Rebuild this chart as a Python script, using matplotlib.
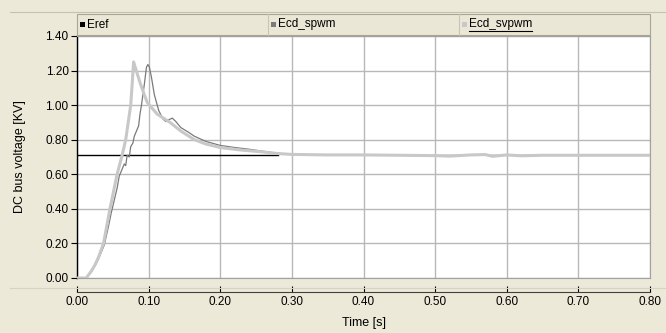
import matplotlib
matplotlib.use('Agg')
import matplotlib.pyplot as plt
from matplotlib.patches import Rectangle
from matplotlib.lines import Line2D

plt.rcParams['font.family'] = ['Liberation Sans', 'DejaVu Sans']

# Series names
series_names = ['Eref', 'Ecd_spwm', 'Ecd_svpwm']

# Eref reference line
t_ref = [0.0, 0.281]
v_ref = [0.709, 0.709]

# Ecd_spwm (dark grey)
t_spwm = [0.0, 0.013, 0.02, 0.025, 0.03, 0.038, 0.044, 0.048, 0.052, 0.056, 0.059, 0.062,
          0.066, 0.068, 0.070, 0.073, 0.075, 0.078, 0.080, 0.083, 0.086, 0.088,
          0.090, 0.094, 0.097, 0.099, 0.101, 0.104, 0.108, 0.114, 0.120, 0.124,
          0.128, 0.133, 0.138, 0.145, 0.155, 0.164, 0.18, 0.20, 0.22, 0.24,
          0.258, 0.28, 0.30, 0.35, 0.40, 0.45, 0.50, 0.55, 0.60, 0.65, 0.70,
          0.75, 0.80]
v_spwm = [0.0, 0.0, 0.035, 0.07, 0.11, 0.19, 0.30, 0.38, 0.45, 0.52, 0.59, 0.62,
          0.66, 0.65, 0.71, 0.70, 0.76, 0.78, 0.82, 0.85, 0.88, 0.95,
          1.00, 1.12, 1.22, 1.235, 1.22, 1.16, 1.06, 0.97, 0.92, 0.905,
          0.915, 0.925, 0.905, 0.87, 0.845, 0.82, 0.79, 0.767, 0.755, 0.745,
          0.734, 0.722, 0.715, 0.712, 0.711, 0.71, 0.709, 0.71, 0.709, 0.71, 0.71,
          0.71, 0.71]

# Ecd_svpwm (light grey)
t_svpwm = [0.0, 0.013, 0.02, 0.025, 0.03, 0.037, 0.046, 0.056, 0.063, 0.068, 0.075,
           0.077, 0.079, 0.082, 0.088, 0.094, 0.098, 0.112, 0.130, 0.145, 0.164,
           0.18, 0.201, 0.23, 0.258, 0.28, 0.30, 0.35, 0.40, 0.45, 0.50, 0.52,
           0.55, 0.57, 0.58, 0.60, 0.62, 0.65, 0.70, 0.75, 0.80]
v_svpwm = [0.0, 0.0, 0.04, 0.075, 0.12, 0.2, 0.4, 0.6, 0.71, 0.8, 1.0,
           1.12, 1.25, 1.21, 1.13, 1.06, 1.016, 0.948, 0.90, 0.85, 0.80,
           0.775, 0.754, 0.74, 0.73, 0.72, 0.715, 0.712, 0.712, 0.71, 0.708, 0.705,
           0.712, 0.714, 0.704, 0.712, 0.707, 0.71, 0.71, 0.71, 0.71]

x_ticks = [0.0, 0.1, 0.2, 0.3, 0.4, 0.5, 0.6, 0.7, 0.8]
y_ticks = [0.0, 0.2, 0.4, 0.6, 0.8, 1.0, 1.2, 1.4]

bg = '#ECE9D8'
W, H = 666, 333
fig = plt.figure(figsize=(W / 100, H / 100), dpi=100, facecolor=bg)

# pixel helpers
def fx(px):
    return px / W

def fy(py):
    return 1 - py / H

left, right, top, bottom = 77, 650, 36, 278

# main plot
ax = fig.add_axes([fx(left), fy(bottom), fx(right - left), fy(top) - fy(bottom)])
ax.set_facecolor('white')
ax.plot(t_ref, v_ref, color='black', lw=1.0, zorder=3)
ax.plot(t_spwm, v_spwm, color='#7a7a7a', lw=0.9, zorder=4)
ax.plot(t_svpwm, v_svpwm, color='#c8c8c8', lw=2.2, zorder=5)
ax.set_xlim(0, 0.8)
ax.set_ylim(0, 1.4)
ax.set_xticks(x_ticks)
ax.set_yticks(y_ticks)
ax.set_yticklabels(['%.2f' % v for v in y_ticks], fontsize=8.5)
ax.tick_params(axis='x', length=0, labelbottom=False)
ax.tick_params(axis='y', length=4, width=0.8, pad=2, direction='out')
ax.grid(True, color='#b8b8b8', lw=1.0)
ax.set_axisbelow(True)
for s in ['top', 'right', 'bottom']:
    ax.spines[s].set_color('#a0a0a0')
    ax.spines[s].set_linewidth(0.8)
ax.spines['left'].set_color('black')
ax.spines['left'].set_linewidth(1.0)

# separate time axis below
axx = fig.add_axes([fx(left), fy(292), fx(right - left), 0.0001])
axx.set_xlim(0, 0.8)
axx.set_xticks(x_ticks)
axx.set_xticklabels(['%.2f' % v for v in x_ticks], fontsize=8.5)
axx.set_yticks([])
axx.patch.set_visible(False)
for s in ['top', 'right', 'left']:
    axx.spines[s].set_visible(False)
axx.spines['bottom'].set_color('#404040')
axx.tick_params(axis='x', direction='in', length=4, width=0.8, pad=3)
fig.text(fx((left + right) / 2), fy(323), 'Time [s]', ha='center', va='center', fontsize=9)

fig.text(fx(20), fy(157), 'DC bus voltage [KV]', rotation=90, ha='center', va='center', fontsize=9)

# frame lines
fig.add_artist(Line2D([fx(10), 1], [fy(12), fy(12)], color='#c4c1b0', lw=0.8))
fig.add_artist(Line2D([fx(10), 1], [fy(288), fy(288)], color='#d6d3c2', lw=0.8))

# legend band
band = Rectangle((fx(left), fy(35)), fx(right - left), fy(14) - fy(35), transform=fig.transFigure,
                 facecolor='#EAE7D6', edgecolor='#a8a596', lw=0.8)
fig.add_artist(band)
colors = ['black', '#7a7a7a', '#c8c8c8']
seg = (right - left) / 3
for i, (name, c) in enumerate(zip(series_names, colors)):
    x0 = left + i * seg
    if i > 0:
        fig.add_artist(Line2D([fx(x0), fx(x0)], [fy(35), fy(14)], color='#c8c5b4', lw=0.8))
    fig.add_artist(Rectangle((fx(x0 + 3), fy(27)), fx(5), fy(22) - fy(27), transform=fig.transFigure,
                             facecolor=c, edgecolor='none'))
    txt = fig.text(fx(x0 + 10), fy(24.5), name, ha='left', va='center', fontsize=8.5)
    if i == 2:
        fig.canvas.draw()
        bb = txt.get_window_extent()
        fig.add_artist(Line2D([bb.x0 / W, bb.x1 / W], [fy(31), fy(31)], color='black', lw=0.8))

fig.savefig('out.png', dpi=100, facecolor=bg)
